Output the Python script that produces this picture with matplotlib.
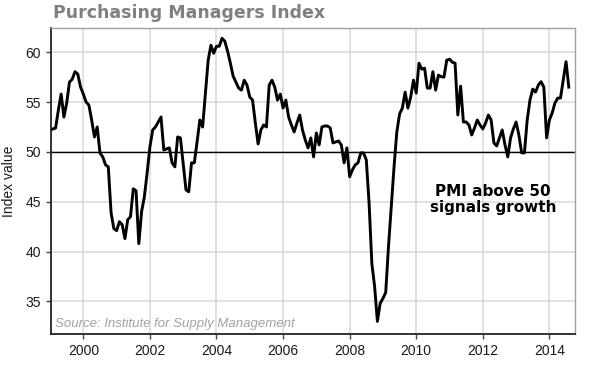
import matplotlib.pyplot as plt
import numpy as np

# ISM manufacturing PMI, monthly values starting Jan 1999
pmi = [
    # 1999
    52.2, 52.3, 52.4, 54.2, 55.8, 53.5, 54.9, 57.0, 57.3, 58.05, 57.8, 56.5,
    # 2000
    55.8, 55.0, 54.7, 53.2, 51.5, 52.5, 49.9, 49.5, 48.7, 48.5, 43.9, 42.3,
    # 2001
    42.1, 43.0, 42.7, 41.3, 43.2, 43.5, 46.3, 46.1, 40.8, 44.0, 45.5, 47.9,
    # 2002
    50.5, 52.2, 52.5, 53.0, 53.5, 50.2, 50.3, 50.4, 48.9, 48.5, 51.5, 51.4,
    # 2003
    48.8, 46.2, 46.0, 48.9, 48.9, 51.0, 53.2, 52.5, 55.9, 59.2, 60.7, 59.9,
    # 2004
    60.6, 60.6, 61.4, 61.1, 60.1, 58.9, 57.6, 57.0, 56.4, 56.2, 57.2, 56.7,
    # 2005
    55.5, 55.2, 52.9, 50.8, 52.2, 52.7, 52.5, 56.7, 57.2, 56.5, 55.2, 55.8,
    # 2006
    54.4, 55.2, 53.5, 52.7, 52.0, 52.9, 53.7, 52.2, 51.2, 50.4, 51.4, 49.5,
    # 2007
    51.9, 50.7, 52.5, 52.6, 52.6, 52.4, 50.9, 51.0, 51.1, 50.7, 48.9, 50.4,
    # 2008
    47.5, 48.2, 48.7, 48.9, 49.9, 49.9, 49.2, 44.9, 38.8, 36.5, 33.0, 34.8,
    # 2009
    35.3, 35.9, 40.5, 44.5, 48.5, 52.0, 53.8, 54.4, 56.0, 54.4, 55.5, 57.2,
    # 2010
    55.9, 58.9, 58.3, 58.4, 56.4, 56.4, 58.05, 56.2, 57.7, 57.55, 57.5, 59.2,
    # 2011
    59.3, 59.0, 58.9, 53.7, 56.6, 53.0, 53.0, 52.7, 51.7, 52.4, 53.2, 52.7,
    # 2012
    52.3, 52.9, 53.7, 53.2, 50.9, 50.6, 51.4, 52.2, 50.7, 49.5, 51.4, 52.3,
    # 2013
    53.0, 51.7, 49.9, 49.9, 53.2, 55.2, 56.3, 56.0, 56.7, 57.05, 56.5, 51.4,
    # 2014
    53.2, 53.9, 54.9, 55.4, 55.4, 57.2, 59.05, 56.5,
]
start_year = 1999
x_ticks = list(range(2000, 2015, 2))
y_ticks = list(range(35, 61, 5))
threshold = 50

years = start_year + np.arange(len(pmi)) / 12

fig = plt.figure(figsize=(5.91, 3.76), dpi=100)
ax = fig.add_axes([0.0858, 0.1109, 0.8866, 0.8138])

ax.grid(color='#d9d9d9', lw=1.1)
ax.set_axisbelow(True)
ax.axhline(threshold, color='black', lw=1.0, zorder=2)
ax.plot(years, pmi, color='black', lw=2.1, solid_joinstyle='round', zorder=3)

ax.set_xlim(1999.02, 2014.76)
ax.set_ylim(31.7, 62.4)
ax.set_xticks(x_ticks)
ax.set_yticks(y_ticks)

for lab in ax.get_xticklabels() + ax.get_yticklabels():
    lab.set_family('Liberation Sans')
ax.tick_params(direction='out', length=3.6, width=1.0, color='#444444',
               labelsize=10, labelcolor='#1a1a1a')
ax.tick_params(axis='y', pad=3.6)
ax.tick_params(axis='x', pad=3.2)

for side in ['left', 'bottom']:
    ax.spines[side].set_color('#222222')
    ax.spines[side].set_linewidth(1.3)
for side in ['top', 'right']:
    ax.spines[side].set_color('#a0a0a0')
    ax.spines[side].set_linewidth(1.0)

ax.set_ylabel('Index value', fontsize=10, family='Liberation Sans', color='#1a1a1a')
ax.yaxis.set_label_coords(-0.066, 0.5)

fig.text(0.0897, 0.952, 'Purchasing Managers Index', fontsize=12.5,
         fontweight='bold', color='#808080', family='DejaVu Sans',
         ha='left', va='baseline')

ax.text(2012.3, 45.2, 'PMI above 50\nsignals growth', fontsize=11,
        fontweight='bold', family='DejaVu Sans', ha='center', va='center',
        multialignment='center', linespacing=1.1)

ax.text(1999.15, 32.45, 'Source: Institute for Supply Management',
        fontsize=9.5, style='italic', family='Liberation Sans',
        color='#9da3aa', ha='left', va='baseline')

fig.savefig('out.png', dpi=100)
